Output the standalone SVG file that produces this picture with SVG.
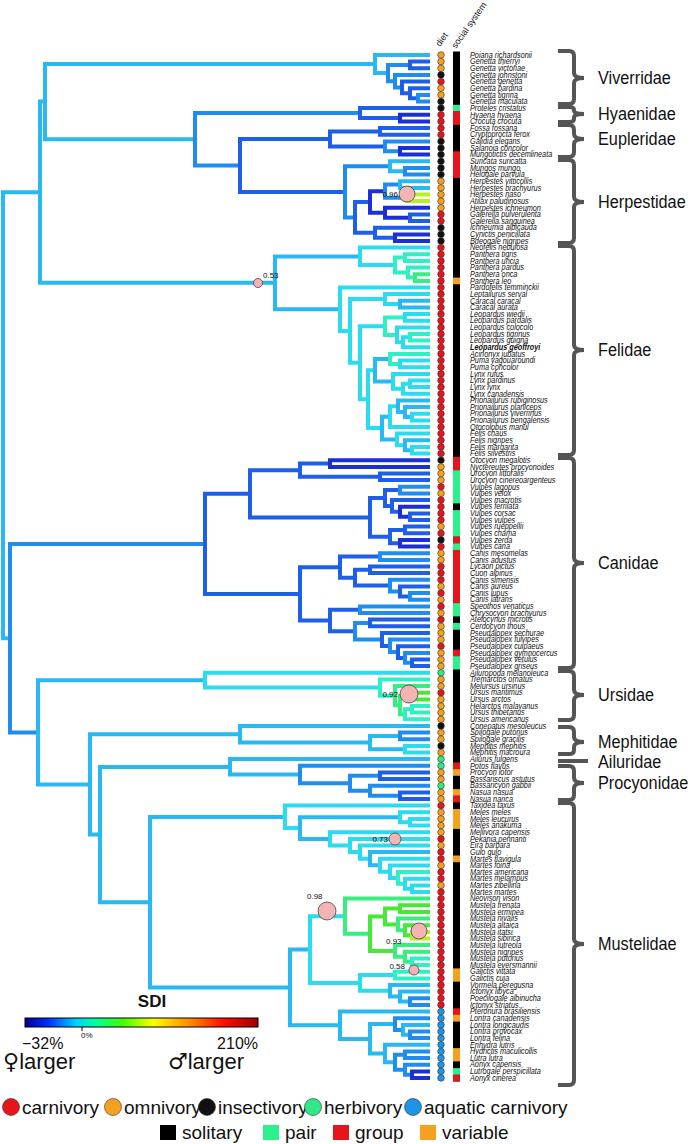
<svg xmlns="http://www.w3.org/2000/svg" width="691" height="1144" viewBox="0 0 691 1144">
<defs>
<linearGradient id="sdi" x1="0" x2="1" y1="0" y2="0">
<stop offset="0" stop-color="#000090"/><stop offset="0.1" stop-color="#0030ff"/><stop offset="0.22" stop-color="#00d0ff"/><stop offset="0.3" stop-color="#00ffa0"/><stop offset="0.42" stop-color="#40ff00"/><stop offset="0.55" stop-color="#ffff00"/><stop offset="0.7" stop-color="#ff9000"/><stop offset="0.85" stop-color="#ff1000"/><stop offset="1" stop-color="#a00000"/>
</linearGradient>
<style>
.tr path{fill:none;stroke-width:4;stroke-linecap:square}
.c1{stroke:#1b2fd6}.c2{stroke:#1d5fe8}.c3{stroke:#1f8df0}.c4{stroke:#28b8f2}.c5{stroke:#2bdcef}.c6{stroke:#2ff0c4}.c7{stroke:#38ee7e}.c8{stroke:#48e838}.c9{stroke:#b8f028}
.sp{font-family:"Liberation Sans",Arial,sans-serif;font-style:italic;font-size:8.2px;fill:#111}
.d circle{stroke:#333;stroke-width:0.6}
.R{fill:#e8141c}.O{fill:#f5a01e}.K{fill:#111}.G{fill:#2ee88a}.B{fill:#1e94e6}
.sR{fill:#e8141c}.sG{fill:#2ef08a}.sO{fill:#f5a01e}
.br{fill:none;stroke:#555;stroke-width:4}
.fam{font-family:"Liberation Sans",Arial,sans-serif;font-size:18.5px;fill:#111}
.pk{fill:#f4b4b4;stroke:#444;stroke-width:0.8}
.pl{font-family:"Liberation Sans",Arial,sans-serif;font-size:8px;fill:#111}
.lg{font-family:"Liberation Sans",Arial,sans-serif;font-size:19px;fill:#111}
.hd{font-family:"Liberation Sans",Arial,sans-serif;font-size:9px;fill:#111}
</style>
</defs>
<rect width="691" height="1144" fill="#fff"/>
<g id="connectors" class="tr">
<path class="c4" d="M40 192.2H3V638.2H10"/>
<path class="c4" d="M45 101.6H40V282.8H275"/>
<path class="c4" d="M375 64H45V139.3H195"/>
<path class="c4" d="M428 55H375V73.1H388"/>
<path class="c3" d="M410 65H388V81.2H395"/>
<path class="c2" d="M428 61.6H410V68.3H428"/>
<path class="c3" d="M428 74.9H395V87.4H402"/>
<path class="c2" d="M428 81.6H402V93.2H410"/>
<path class="c2" d="M428 88.2H410V98.2H418"/>
<path class="c3" d="M428 94.9H418V101.5H428"/>
<path class="c3" d="M360 113.1H195V165.4H240"/>
<path class="c2" d="M428 108.1H360V118.1H400"/>
<path class="c1" d="M428 114.8H400V121.4H428"/>
<path class="c2" d="M330 138.9H240V191.9H345"/>
<path class="c2" d="M380 131.4H330V146.4H385"/>
<path class="c2" d="M428 128.1H380V134.7H428"/>
<path class="c3" d="M428 141.4H385V151.3H400"/>
<path class="c1" d="M428 148H400V154.6H428"/>
<path class="c3" d="M390 166.3H345V217.4H355"/>
<path class="c4" d="M428 161.3H390V171.3H405"/>
<path class="c3" d="M428 167.9H405V174.6H428"/>
<path class="c2" d="M370 202H355V232.7H375"/>
<path class="c1" d="M385 191.2H370V212.8H385"/>
<path class="c3" d="M400 184.6H385V197.8H407"/>
<path class="c4" d="M428 181.2H400V187.9H428"/>
<path class="c9" d="M428 194.5H407V201.1H428"/>
<path class="c1" d="M428 207.8H385V217.8H410"/>
<path class="c2" d="M428 214.4H410V221.1H428"/>
<path class="c2" d="M428 227.7H375V237.7H395"/>
<path class="c1" d="M428 234.4H395V241H428"/>
<path class="c4" d="M360 256.4H275V309.2H340"/>
<path class="c5" d="M428 247.6H360V265.1H395"/>
<path class="c6" d="M405 257.6H395V272.6H408"/>
<path class="c6" d="M428 254.3H405V260.9H428"/>
<path class="c6" d="M428 267.6H408V277.6H415"/>
<path class="c7" d="M428 274.2H415V280.9H428"/>
<path class="c5" d="M428 287.5H340V330.9H350"/>
<path class="c5" d="M385 299.1H350V362.7H360"/>
<path class="c5" d="M428 294.1H385V304.1H400"/>
<path class="c4" d="M428 300.8H400V307.4H428"/>
<path class="c5" d="M385 326.2H360V399.2H368"/>
<path class="c6" d="M405 317.4H385V334.9H397"/>
<path class="c5" d="M428 314.1H405V320.7H428"/>
<path class="c5" d="M428 327.4H397V342.3H403"/>
<path class="c5" d="M410 337.3H403V347.3H428"/>
<path class="c6" d="M428 334H410V340.6H428"/>
<path class="c5" d="M375 370.2H368V428.1H382"/>
<path class="c4" d="M390 358.9H375V381.4H393"/>
<path class="c6" d="M428 353.9H390V363.9H400"/>
<path class="c5" d="M428 360.6H400V367.2H428"/>
<path class="c5" d="M428 373.9H393V388.8H403"/>
<path class="c5" d="M410 383.8H403V393.8H428"/>
<path class="c5" d="M428 380.5H410V387.1H428"/>
<path class="c4" d="M390 416.7H382V439.5H397"/>
<path class="c5" d="M398 406.3H390V427H428"/>
<path class="c4" d="M428 400.4H398V412.1H405"/>
<path class="c4" d="M428 407.1H405V417.1H412"/>
<path class="c5" d="M428 413.7H412V420.4H428"/>
<path class="c5" d="M428 433.6H397V445.3H405"/>
<path class="c4" d="M428 440.3H405V450.3H412"/>
<path class="c5" d="M428 446.9H412V453.6H428"/>
<path class="c3" d="M205 543.9H10V732.4H38"/>
<path class="c2" d="M250 493.8H205V593.9H300"/>
<path class="c2" d="M300 470.2H250V517.4H370"/>
<path class="c2" d="M330 463.6H300V476.8H380"/>
<path class="c1" d="M428 460.2H330V466.9H428"/>
<path class="c2" d="M428 473.5H380V480.1H428"/>
<path class="c2" d="M385 498H370V536.7H390"/>
<path class="c2" d="M400 490.1H385V505.9H392"/>
<path class="c3" d="M428 486.8H400V493.4H428"/>
<path class="c2" d="M428 500.1H392V511.7H400"/>
<path class="c1" d="M428 506.7H400V516.7H410"/>
<path class="c2" d="M428 513.4H410V520H428"/>
<path class="c2" d="M405 530H390V543.3H400"/>
<path class="c2" d="M428 526.6H405V533.3H428"/>
<path class="c1" d="M428 539.9H400V546.6H428"/>
<path class="c2" d="M340 567.2H300V620.5H330"/>
<path class="c2" d="M380 556.6H340V577.7H355"/>
<path class="c3" d="M428 553.2H380V559.9H428"/>
<path class="c2" d="M370 569.8H355V585.6H390"/>
<path class="c2" d="M428 566.5H370V573.1H428"/>
<path class="c3" d="M428 579.8H390V591.4H400"/>
<path class="c2" d="M428 586.4H400V596.4H410"/>
<path class="c3" d="M428 593.1H410V599.7H428"/>
<path class="c2" d="M360 609.7H330V631.2H355"/>
<path class="c3" d="M428 606.4H360V613H428"/>
<path class="c3" d="M370 623H355V639.4H382"/>
<path class="c2" d="M428 619.6H370V626.3H428"/>
<path class="c2" d="M428 632.9H382V645.9H390"/>
<path class="c3" d="M428 639.6H390V652.1H398"/>
<path class="c2" d="M428 646.2H398V657.9H405"/>
<path class="c3" d="M428 652.9H405V662.8H412"/>
<path class="c2" d="M428 659.5H412V666.1H428"/>
<path class="c4" d="M205 680.2H38V784.5H90"/>
<path class="c5" d="M428 672.8H205V687.6H380"/>
<path class="c6" d="M428 679.4H380V695.7H395"/>
<path class="c7" d="M428 686.1H395V705.2H400"/>
<path class="c7" d="M409 696.1H400V714.3H405"/>
<path class="c8" d="M428 692.7H409V699.4H428"/>
<path class="c6" d="M412 709.3H405V719.3H428"/>
<path class="c6" d="M428 706H412V712.6H428"/>
<path class="c4" d="M240 734.3H90V834.6H100"/>
<path class="c4" d="M428 725.9H240V742.6H370"/>
<path class="c4" d="M400 735.9H370V749.2H405"/>
<path class="c3" d="M428 732.6H400V739.2H428"/>
<path class="c5" d="M428 745.9H405V752.5H428"/>
<path class="c4" d="M230 766.9H100V902.2H150"/>
<path class="c4" d="M428 759.1H230V774.6H300"/>
<path class="c3" d="M428 765.8H300V783.3H350"/>
<path class="c3" d="M380 775.8H350V790.7H370"/>
<path class="c2" d="M428 772.4H380V779.1H428"/>
<path class="c3" d="M428 785.7H370V795.7H400"/>
<path class="c2" d="M428 792.4H400V799H428"/>
<path class="c4" d="M285 816.9H150V987.5H290"/>
<path class="c5" d="M428 805.6H285V828.1H300"/>
<path class="c4" d="M400 817.3H300V838.9H330"/>
<path class="c5" d="M428 812.3H400V822.3H410"/>
<path class="c5" d="M428 818.9H410V825.6H428"/>
<path class="c5" d="M428 832.2H330V845.5H350"/>
<path class="c5" d="M428 838.9H350V852.1H360"/>
<path class="c5" d="M428 845.5H360V858.7H370"/>
<path class="c4" d="M428 852.1H370V865.3H380"/>
<path class="c5" d="M428 858.8H380V871.7H390"/>
<path class="c5" d="M428 865.4H390V877.9H398"/>
<path class="c6" d="M428 872.1H398V883.7H405"/>
<path class="c5" d="M428 878.7H405V888.7H412"/>
<path class="c5" d="M428 885.4H412V892H428"/>
<path class="c4" d="M310 949.6H290V1025.3H340"/>
<path class="c5" d="M345 916.2H310V983H360"/>
<path class="c7" d="M428 898.6H345V933.8H370"/>
<path class="c8" d="M385 916.5H370V951H395"/>
<path class="c8" d="M400 908.6H385V924.4H398"/>
<path class="c8" d="M428 905.3H400V911.9H428"/>
<path class="c7" d="M428 918.6H398V930.2H405"/>
<path class="c8" d="M428 925.2H405V935.2H412"/>
<path class="c9" d="M428 931.9H412V938.5H428"/>
<path class="c7" d="M428 945.1H395V956.8H405"/>
<path class="c7" d="M428 951.8H405V961.8H412"/>
<path class="c6" d="M428 958.4H412V965.1H428"/>
<path class="c5" d="M395 975.1H360V990.8H390"/>
<path class="c6" d="M428 971.7H395V978.4H428"/>
<path class="c4" d="M428 985H390V996.6H400"/>
<path class="c4" d="M428 991.6H400V1001.6H410"/>
<path class="c3" d="M428 998.3H410V1004.9H428"/>
<path class="c4" d="M428 1011.6H340V1038.9H370"/>
<path class="c4" d="M395 1024.1H370V1053.6H385"/>
<path class="c3" d="M428 1018.2H395V1029.9H403"/>
<path class="c4" d="M428 1024.9H403V1034.8H410"/>
<path class="c3" d="M428 1031.5H410V1038.1H428"/>
<path class="c4" d="M428 1044.8H385V1062.3H395"/>
<path class="c3" d="M405 1054.8H395V1069.7H405"/>
<path class="c3" d="M428 1051.4H405V1058.1H428"/>
<path class="c3" d="M428 1064.7H405V1074.7H412"/>
<path class="c1" d="M428 1071.4H412V1078H428"/>
</g>
<g id="shift-markers">
<circle class="pk" cx="258" cy="283" r="4.5"/><text class="pl" x="263" y="278">0.53</text>
<circle class="pk" cx="407" cy="194" r="8"/><text class="pl" x="398" y="197" text-anchor="end">0.96</text>
<circle class="pk" cx="409" cy="694" r="9"/><text class="pl" x="398" y="697" text-anchor="end">0.92</text>
<circle class="pk" cx="395" cy="839" r="6"/><text class="pl" x="388" y="842" text-anchor="end">0.73</text>
<circle class="pk" cx="327" cy="911" r="9"/><text class="pl" x="307" y="899">0.98</text>
<circle class="pk" cx="419" cy="931" r="8"/><text class="pl" x="386" y="944">0.93</text>
<circle class="pk" cx="414" cy="970" r="5"/><text class="pl" x="405" y="969" text-anchor="end">0.58</text>
</g>
<g id="headers">
<text class="hd" transform="translate(440 47) rotate(-55)">diet</text>
<text class="hd" transform="translate(456 49) rotate(-55)">social system</text>
</g>
<g id="diet" class="d">
<circle class="O" cx="441" cy="55" r="3.3"/><circle class="O" cx="441" cy="61.6" r="3.3"/><circle class="O" cx="441" cy="68.3" r="3.3"/><circle class="K" cx="441" cy="74.9" r="3.3"/><circle class="R" cx="441" cy="81.6" r="3.3"/><circle class="O" cx="441" cy="88.2" r="3.3"/><circle class="O" cx="441" cy="94.9" r="3.3"/><circle class="K" cx="441" cy="101.5" r="3.3"/><circle class="K" cx="441" cy="108.1" r="3.3"/><circle class="R" cx="441" cy="114.8" r="3.3"/><circle class="R" cx="441" cy="121.4" r="3.3"/><circle class="R" cx="441" cy="128.1" r="3.3"/><circle class="R" cx="441" cy="134.7" r="3.3"/><circle class="K" cx="441" cy="141.4" r="3.3"/><circle class="K" cx="441" cy="148" r="3.3"/><circle class="K" cx="441" cy="154.6" r="3.3"/><circle class="K" cx="441" cy="161.3" r="3.3"/><circle class="K" cx="441" cy="167.9" r="3.3"/><circle class="K" cx="441" cy="174.6" r="3.3"/><circle class="O" cx="441" cy="181.2" r="3.3"/><circle class="O" cx="441" cy="187.9" r="3.3"/><circle class="O" cx="441" cy="194.5" r="3.3"/><circle class="O" cx="441" cy="201.1" r="3.3"/><circle class="O" cx="441" cy="207.8" r="3.3"/><circle class="R" cx="441" cy="214.4" r="3.3"/><circle class="R" cx="441" cy="221.1" r="3.3"/><circle class="K" cx="441" cy="227.7" r="3.3"/><circle class="K" cx="441" cy="234.4" r="3.3"/><circle class="K" cx="441" cy="241" r="3.3"/>
<circle class="R" cx="441" cy="247.6" r="3.3"/><circle class="R" cx="441" cy="254.3" r="3.3"/><circle class="R" cx="441" cy="260.9" r="3.3"/><circle class="R" cx="441" cy="267.6" r="3.3"/><circle class="R" cx="441" cy="274.2" r="3.3"/><circle class="R" cx="441" cy="280.9" r="3.3"/><circle class="R" cx="441" cy="287.5" r="3.3"/><circle class="R" cx="441" cy="294.1" r="3.3"/><circle class="R" cx="441" cy="300.8" r="3.3"/><circle class="R" cx="441" cy="307.4" r="3.3"/><circle class="R" cx="441" cy="314.1" r="3.3"/><circle class="R" cx="441" cy="320.7" r="3.3"/><circle class="R" cx="441" cy="327.4" r="3.3"/><circle class="R" cx="441" cy="334" r="3.3"/><circle class="R" cx="441" cy="340.6" r="3.3"/><circle class="R" cx="441" cy="347.3" r="3.3"/><circle class="R" cx="441" cy="353.9" r="3.3"/><circle class="R" cx="441" cy="360.6" r="3.3"/><circle class="R" cx="441" cy="367.2" r="3.3"/><circle class="R" cx="441" cy="373.9" r="3.3"/><circle class="R" cx="441" cy="380.5" r="3.3"/><circle class="R" cx="441" cy="387.1" r="3.3"/><circle class="R" cx="441" cy="393.8" r="3.3"/><circle class="R" cx="441" cy="400.4" r="3.3"/><circle class="R" cx="441" cy="407.1" r="3.3"/><circle class="R" cx="441" cy="413.7" r="3.3"/><circle class="R" cx="441" cy="420.4" r="3.3"/><circle class="R" cx="441" cy="427" r="3.3"/><circle class="R" cx="441" cy="433.6" r="3.3"/><circle class="R" cx="441" cy="440.3" r="3.3"/><circle class="R" cx="441" cy="446.9" r="3.3"/><circle class="R" cx="441" cy="453.6" r="3.3"/>
<circle class="K" cx="441" cy="460.2" r="3.3"/><circle class="O" cx="441" cy="466.9" r="3.3"/><circle class="O" cx="441" cy="473.5" r="3.3"/><circle class="O" cx="441" cy="480.1" r="3.3"/><circle class="R" cx="441" cy="486.8" r="3.3"/><circle class="O" cx="441" cy="493.4" r="3.3"/><circle class="R" cx="441" cy="500.1" r="3.3"/><circle class="R" cx="441" cy="506.7" r="3.3"/><circle class="R" cx="441" cy="513.4" r="3.3"/><circle class="R" cx="441" cy="520" r="3.3"/><circle class="O" cx="441" cy="526.6" r="3.3"/><circle class="R" cx="441" cy="533.3" r="3.3"/><circle class="K" cx="441" cy="539.9" r="3.3"/><circle class="R" cx="441" cy="546.6" r="3.3"/><circle class="O" cx="441" cy="553.2" r="3.3"/><circle class="O" cx="441" cy="559.9" r="3.3"/><circle class="R" cx="441" cy="566.5" r="3.3"/><circle class="R" cx="441" cy="573.1" r="3.3"/><circle class="R" cx="441" cy="579.8" r="3.3"/><circle class="O" cx="441" cy="586.4" r="3.3"/><circle class="R" cx="441" cy="593.1" r="3.3"/><circle class="O" cx="441" cy="599.7" r="3.3"/><circle class="R" cx="441" cy="606.4" r="3.3"/><circle class="O" cx="441" cy="613" r="3.3"/><circle class="R" cx="441" cy="619.6" r="3.3"/><circle class="O" cx="441" cy="626.3" r="3.3"/><circle class="O" cx="441" cy="632.9" r="3.3"/><circle class="O" cx="441" cy="639.6" r="3.3"/><circle class="R" cx="441" cy="646.2" r="3.3"/><circle class="O" cx="441" cy="652.9" r="3.3"/><circle class="O" cx="441" cy="659.5" r="3.3"/><circle class="O" cx="441" cy="666.1" r="3.3"/>
<circle class="G" cx="441" cy="672.8" r="3.3"/><circle class="O" cx="441" cy="679.4" r="3.3"/><circle class="O" cx="441" cy="686.1" r="3.3"/><circle class="R" cx="441" cy="692.7" r="3.3"/><circle class="O" cx="441" cy="699.4" r="3.3"/><circle class="O" cx="441" cy="706" r="3.3"/><circle class="O" cx="441" cy="712.6" r="3.3"/><circle class="O" cx="441" cy="719.3" r="3.3"/><circle class="K" cx="441" cy="725.9" r="3.3"/><circle class="O" cx="441" cy="732.6" r="3.3"/><circle class="O" cx="441" cy="739.2" r="3.3"/><circle class="K" cx="441" cy="745.9" r="3.3"/><circle class="O" cx="441" cy="752.5" r="3.3"/><circle class="G" cx="441" cy="759.1" r="3.3"/><circle class="G" cx="441" cy="765.8" r="3.3"/><circle class="O" cx="441" cy="772.4" r="3.3"/><circle class="O" cx="441" cy="779.1" r="3.3"/><circle class="G" cx="441" cy="785.7" r="3.3"/><circle class="O" cx="441" cy="792.4" r="3.3"/><circle class="O" cx="441" cy="799" r="3.3"/><circle class="R" cx="441" cy="805.6" r="3.3"/><circle class="O" cx="441" cy="812.3" r="3.3"/><circle class="O" cx="441" cy="818.9" r="3.3"/><circle class="O" cx="441" cy="825.6" r="3.3"/><circle class="O" cx="441" cy="832.2" r="3.3"/><circle class="R" cx="441" cy="838.9" r="3.3"/><circle class="O" cx="441" cy="845.5" r="3.3"/><circle class="R" cx="441" cy="852.1" r="3.3"/><circle class="R" cx="441" cy="858.8" r="3.3"/><circle class="O" cx="441" cy="865.4" r="3.3"/><circle class="R" cx="441" cy="872.1" r="3.3"/><circle class="R" cx="441" cy="878.7" r="3.3"/><circle class="O" cx="441" cy="885.4" r="3.3"/><circle class="R" cx="441" cy="892" r="3.3"/>
<circle class="R" cx="441" cy="898.6" r="3.3"/><circle class="R" cx="441" cy="905.3" r="3.3"/><circle class="R" cx="441" cy="911.9" r="3.3"/><circle class="R" cx="441" cy="918.6" r="3.3"/><circle class="R" cx="441" cy="925.2" r="3.3"/><circle class="R" cx="441" cy="931.9" r="3.3"/><circle class="R" cx="441" cy="938.5" r="3.3"/><circle class="R" cx="441" cy="945.1" r="3.3"/><circle class="R" cx="441" cy="951.8" r="3.3"/><circle class="R" cx="441" cy="958.4" r="3.3"/><circle class="R" cx="441" cy="965.1" r="3.3"/><circle class="R" cx="441" cy="971.7" r="3.3"/><circle class="R" cx="441" cy="978.4" r="3.3"/><circle class="R" cx="441" cy="985" r="3.3"/><circle class="R" cx="441" cy="991.6" r="3.3"/><circle class="R" cx="441" cy="998.3" r="3.3"/><circle class="R" cx="441" cy="1004.9" r="3.3"/><circle class="B" cx="441" cy="1011.6" r="3.3"/><circle class="B" cx="441" cy="1018.2" r="3.3"/><circle class="B" cx="441" cy="1024.9" r="3.3"/><circle class="B" cx="441" cy="1031.5" r="3.3"/><circle class="B" cx="441" cy="1038.1" r="3.3"/><circle class="B" cx="441" cy="1044.8" r="3.3"/><circle class="B" cx="441" cy="1051.4" r="3.3"/><circle class="B" cx="441" cy="1058.1" r="3.3"/><circle class="B" cx="441" cy="1064.7" r="3.3"/><circle class="B" cx="441" cy="1071.4" r="3.3"/><circle class="B" cx="441" cy="1078" r="3.3"/>
</g>
<g id="social">
<rect x="453" y="51.5" width="7" height="1030" fill="#000"/>
<rect class="sG" x="453" y="104.8" width="7" height="6.7"/>
<rect class="sR" x="453" y="111.5" width="7" height="13.3"/>
<rect class="sR" x="453" y="151.3" width="7" height="26.6"/>
<rect class="sO" x="453" y="277.6" width="7" height="6.7"/>
<rect class="sR" x="453" y="456.9" width="7" height="13.3"/>
<rect class="sG" x="453" y="470.2" width="7" height="33.2"/>
<rect class="sG" x="453" y="510.1" width="7" height="26.6"/>
<rect class="sR" x="453" y="536.6" width="7" height="6.7"/>
<rect class="sG" x="453" y="543.3" width="7" height="6.7"/>
<rect class="sR" x="453" y="549.9" width="7" height="53.2"/>
<rect class="sG" x="453" y="603.1" width="7" height="13.3"/>
<rect class="sG" x="453" y="623" width="7" height="6.7"/>
<rect class="sR" x="453" y="649.6" width="7" height="6.7"/>
<rect class="sG" x="453" y="656.2" width="7" height="13.3"/>
<rect class="sR" x="453" y="762.5" width="7" height="6.7"/>
<rect class="sO" x="453" y="769.1" width="7" height="6.7"/>
<rect class="sO" x="453" y="789.1" width="7" height="6.7"/>
<rect class="sR" x="453" y="795.7" width="7" height="6.7"/>
<rect class="sO" x="453" y="809" width="7" height="19.9"/>
<rect class="sO" x="453" y="855.5" width="7" height="6.7"/>
<rect class="sO" x="453" y="968.4" width="7" height="13.3"/>
<rect class="sR" x="453" y="1008.3" width="7" height="6.7"/>
<rect class="sO" x="453" y="1014.9" width="7" height="6.7"/>
<rect class="sO" x="453" y="1048.1" width="7" height="13.3"/>
<rect class="sG" x="453" y="1068.1" width="7" height="6.7"/>
<rect class="sR" x="453" y="1074.7" width="7" height="6.7"/>
</g>
<g id="tips">
<text class="sp" transform="translate(470 0) scale(0.89 1)">
<tspan x="0" y="57.8">Poiana richardsonii</tspan><tspan x="0" y="64.4">Genetta thierryi</tspan><tspan x="0" y="71.1">Genetta victoriae</tspan><tspan x="0" y="77.7">Genetta johnstoni</tspan><tspan x="0" y="84.4">Genetta genetta</tspan><tspan x="0" y="91">Genetta pardina</tspan><tspan x="0" y="97.7">Genetta tigrina</tspan><tspan x="0" y="104.3">Genetta maculata</tspan><tspan x="0" y="110.9">Proteles cristatus</tspan><tspan x="0" y="117.6">Hyaena hyaena</tspan><tspan x="0" y="124.2">Crocuta crocuta</tspan><tspan x="0" y="130.9">Fossa fossana</tspan><tspan x="0" y="137.5">Cryptoprocta ferox</tspan><tspan x="0" y="144.2">Galidia elegans</tspan><tspan x="0" y="150.8">Salanoia concolor</tspan><tspan x="0" y="157.4">Mungotictis decemlineata</tspan><tspan x="0" y="164.1">Suricata suricatta</tspan><tspan x="0" y="170.7">Mungos mungo</tspan><tspan x="0" y="177.4">Helogale parvula</tspan><tspan x="0" y="184">Herpestes vitticollis</tspan><tspan x="0" y="190.7">Herpestes brachyurus</tspan><tspan x="0" y="197.3">Herpestes naso</tspan><tspan x="0" y="203.9">Atilax paludinosus</tspan><tspan x="0" y="210.6">Herpestes ichneumon</tspan><tspan x="0" y="217.2">Galerella pulverulenta</tspan><tspan x="0" y="223.9">Galerella sanguinea</tspan><tspan x="0" y="230.5">Ichneumia albicauda</tspan><tspan x="0" y="237.2">Cynictis penicillata</tspan><tspan x="0" y="243.8">Bdeogale nigripes</tspan><tspan x="0" y="250.4">Neofelis nebulosa</tspan><tspan x="0" y="257.1">Panthera tigris</tspan><tspan x="0" y="263.7">Panthera uncia</tspan><tspan x="0" y="270.4">Panthera pardus</tspan><tspan x="0" y="277">Panthera onca</tspan><tspan x="0" y="283.7">Panthera leo</tspan><tspan x="0" y="290.3">Pardofelis temminckii</tspan><tspan x="0" y="296.9">Leptailurus serval</tspan><tspan x="0" y="303.6">Caracal caracal</tspan><tspan x="0" y="310.2">Caracal aurata</tspan><tspan x="0" y="316.9">Leopardus wiedii</tspan><tspan x="0" y="323.5">Leopardus pardalis</tspan><tspan x="0" y="330.2">Leopardus colocolo</tspan><tspan x="0" y="336.8">Leopardus tigrinus</tspan><tspan x="0" y="343.4">Leopardus guigna</tspan><tspan x="0" y="350.1" font-weight="bold">Leopardus geoffroyi</tspan><tspan x="0" y="356.7">Acinonyx jubatus</tspan><tspan x="0" y="363.4">Puma yagouaroundi</tspan><tspan x="0" y="370">Puma concolor</tspan><tspan x="0" y="376.7">Lynx rufus</tspan><tspan x="0" y="383.3">Lynx pardinus</tspan><tspan x="0" y="389.9">Lynx lynx</tspan><tspan x="0" y="396.6">Lynx canadensis</tspan><tspan x="0" y="403.2">Prionailurus rubiginosus</tspan><tspan x="0" y="409.9">Prionailurus planiceps</tspan><tspan x="0" y="416.5">Prionailurus viverrinus</tspan><tspan x="0" y="423.2">Prionailurus bengalensis</tspan><tspan x="0" y="429.8">Otocolobus manul</tspan><tspan x="0" y="436.4">Felis chaus</tspan><tspan x="0" y="443.1">Felis nigripes</tspan><tspan x="0" y="449.7">Felis margarita</tspan><tspan x="0" y="456.4">Felis silvestris</tspan><tspan x="0" y="463">Otocyon megalotis</tspan><tspan x="0" y="469.7">Nyctereutes procyonoides</tspan><tspan x="0" y="476.3">Urocyon littoralis</tspan><tspan x="0" y="482.9">Urocyon cinereoargenteus</tspan><tspan x="0" y="489.6">Vulpes lagopus</tspan><tspan x="0" y="496.2">Vulpes velox</tspan><tspan x="0" y="502.9">Vulpes macrotis</tspan><tspan x="0" y="509.5">Vulpes ferrilata</tspan><tspan x="0" y="516.2">Vulpes corsac</tspan><tspan x="0" y="522.8">Vulpes vulpes</tspan><tspan x="0" y="529.4">Vulpes rueppellii</tspan><tspan x="0" y="536.1">Vulpes chama</tspan><tspan x="0" y="542.7">Vulpes zerda</tspan><tspan x="0" y="549.4">Vulpes cana</tspan><tspan x="0" y="556">Canis mesomelas</tspan><tspan x="0" y="562.7">Canis adustus</tspan><tspan x="0" y="569.3">Lycaon pictus</tspan><tspan x="0" y="575.9">Cuon alpinus</tspan><tspan x="0" y="582.6">Canis simensis</tspan><tspan x="0" y="589.2">Canis aureus</tspan><tspan x="0" y="595.9">Canis lupus</tspan><tspan x="0" y="602.5">Canis latrans</tspan><tspan x="0" y="609.2">Speothos venaticus</tspan><tspan x="0" y="615.8">Chrysocyon brachyurus</tspan><tspan x="0" y="622.4">Atelocynus microtis</tspan><tspan x="0" y="629.1">Cerdocyon thous</tspan><tspan x="0" y="635.7">Pseudalopex sechurae</tspan><tspan x="0" y="642.4">Pseudalopex fulvipes</tspan><tspan x="0" y="649">Pseudalopex culpaeus</tspan><tspan x="0" y="655.7">Pseudalopex gymnocercus</tspan><tspan x="0" y="662.3">Pseudalopex vetulus</tspan><tspan x="0" y="668.9">Pseudalopex griseus</tspan><tspan x="0" y="675.6">Ailuropoda melanoleuca</tspan><tspan x="0" y="682.2">Tremarctos ornatus</tspan><tspan x="0" y="688.9">Melursus ursinus</tspan><tspan x="0" y="695.5">Ursus maritimus</tspan><tspan x="0" y="702.2">Ursus arctos</tspan><tspan x="0" y="708.8">Helarctos malayanus</tspan><tspan x="0" y="715.4">Ursus thibetanus</tspan><tspan x="0" y="722.1">Ursus americanus</tspan><tspan x="0" y="728.7">Conepatus mesoleucus</tspan><tspan x="0" y="735.4">Spilogale putorius</tspan><tspan x="0" y="742">Spilogale gracilis</tspan><tspan x="0" y="748.7">Mephitis mephitis</tspan><tspan x="0" y="755.3">Mephitis macroura</tspan><tspan x="0" y="761.9">Ailurus fulgens</tspan><tspan x="0" y="768.6">Potos flavus</tspan><tspan x="0" y="775.2">Procyon lotor</tspan><tspan x="0" y="781.9">Bassariscus astutus</tspan><tspan x="0" y="788.5">Bassaricyon gabbii</tspan><tspan x="0" y="795.2">Nasua nasua</tspan><tspan x="0" y="801.8">Nasua narica</tspan><tspan x="0" y="808.4">Taxidea taxus</tspan><tspan x="0" y="815.1">Meles meles</tspan><tspan x="0" y="821.7">Meles leucurus</tspan><tspan x="0" y="828.4">Meles anakuma</tspan><tspan x="0" y="835">Mellivora capensis</tspan><tspan x="0" y="841.7">Pekania pennanti</tspan><tspan x="0" y="848.3">Eira barbara</tspan><tspan x="0" y="854.9">Gulo gulo</tspan><tspan x="0" y="861.6">Martes flavigula</tspan><tspan x="0" y="868.2">Martes foina</tspan><tspan x="0" y="874.9">Martes americana</tspan><tspan x="0" y="881.5">Martes melampus</tspan><tspan x="0" y="888.2">Martes zibellina</tspan><tspan x="0" y="894.8">Martes martes</tspan><tspan x="0" y="901.4">Neovison vison</tspan><tspan x="0" y="908.1">Mustela frenata</tspan><tspan x="0" y="914.7">Mustela erminea</tspan><tspan x="0" y="921.4">Mustela nivalis</tspan><tspan x="0" y="928">Mustela altaica</tspan><tspan x="0" y="934.7">Mustela itatsi</tspan><tspan x="0" y="941.3">Mustela sibirica</tspan><tspan x="0" y="947.9">Mustela lutreola</tspan><tspan x="0" y="954.6">Mustela nigripes</tspan><tspan x="0" y="961.2">Mustela putorius</tspan><tspan x="0" y="967.9">Mustela eversmannii</tspan><tspan x="0" y="974.5">Galictis vittata</tspan><tspan x="0" y="981.2">Galictis cuja</tspan><tspan x="0" y="987.8">Vormela peregusna</tspan><tspan x="0" y="994.4">Ictonyx libyca</tspan><tspan x="0" y="1001.1">Poecilogale albinucha</tspan><tspan x="0" y="1007.7">Ictonyx striatus</tspan><tspan x="0" y="1014.4">Pteronura brasiliensis</tspan><tspan x="0" y="1021">Lontra canadensis</tspan><tspan x="0" y="1027.7">Lontra longicaudis</tspan><tspan x="0" y="1034.3">Lontra provocax</tspan><tspan x="0" y="1040.9">Lontra felina</tspan><tspan x="0" y="1047.6">Enhydra lutris</tspan><tspan x="0" y="1054.2">Hydrictis maculicollis</tspan><tspan x="0" y="1060.9">Lutra lutra</tspan><tspan x="0" y="1067.5">Aonyx capensis</tspan><tspan x="0" y="1074.2">Lutrogale perspicillata</tspan><tspan x="0" y="1080.8">Aonyx cinerea</tspan>
</text>
</g>
<g id="families">
<g id="fam-viverridae"><path class="br" d="M558 51H569Q574 51 574 56V73Q574 78 584 78Q574 78 574 83V99Q574 104 569 104H558"/><text class="fam" transform="translate(598 84) scale(0.88 1)">Viverridae</text></g>
<g id="fam-hyaenidae"><path class="br" d="M558 107H569Q574 107 574 110V111Q574 114 584 114Q574 114 574 117V119Q574 122 569 122H558"/><text class="fam" transform="translate(598 120) scale(0.88 1)">Hyaenidae</text></g>
<g id="fam-eupleridae"><path class="br" d="M558 125H569Q574 125 574 130V134Q574 139 584 139Q574 139 574 144V152Q574 157 569 157H558"/><text class="fam" transform="translate(598 145) scale(0.88 1)">Eupleridae</text></g>
<g id="fam-herpestidae"><path class="br" d="M558 160H569Q574 160 574 165V197Q574 202 584 202Q574 202 574 207V238Q574 243 569 243H558"/><text class="fam" transform="translate(598 208) scale(0.88 1)">Herpestidae</text></g>
<g id="fam-felidae"><path class="br" d="M558 246H569Q574 246 574 251V345Q574 350 584 350Q574 350 574 355V450Q574 455 569 455H558"/><text class="fam" transform="translate(598 356) scale(0.88 1)">Felidae</text></g>
<g id="fam-canidae"><path class="br" d="M558 458H569Q574 458 574 463V558Q574 563 584 563Q574 563 574 568V663Q574 668 569 668H558"/><text class="fam" transform="translate(598 569) scale(0.88 1)">Canidae</text></g>
<g id="fam-ursidae"><path class="br" d="M558 671H569Q574 671 574 676V690Q574 695 584 695Q574 695 574 700V715Q574 720 569 720H558"/><text class="fam" transform="translate(598 701) scale(0.88 1)">Ursidae</text></g>
<g id="fam-mephitidae"><path class="br" d="M558 727H569Q574 727 574 732V737Q574 742 584 742Q574 742 574 747V750Q574 754 569 754H558"/><text class="fam" transform="translate(598 748) scale(0.88 1)">Mephitidae</text></g>
<g id="fam-ailuridae"><path class="br" d="M558 761H588"/><text class="fam" transform="translate(598 768) scale(0.88 1)">Ailuridae</text></g>
<g id="fam-procyonidae"><path class="br" d="M558 766H569Q574 766 574 771V778Q574 783 584 783Q574 783 574 788V795Q574 800 569 800H558"/><text class="fam" transform="translate(598 789) scale(0.88 1)">Procyonidae</text></g>
<g id="fam-mustelidae"><path class="br" d="M558 803H569Q574 803 574 808V939Q574 944 584 944Q574 944 574 949V1080Q574 1085 569 1085H558"/><text class="fam" transform="translate(598 950) scale(0.88 1)">Mustelidae</text></g>
</g>
<g id="sdi-legend">
<text x="152" y="1007" font-family="Liberation Sans, Arial, sans-serif" font-size="17" font-weight="bold" text-anchor="middle" fill="#111">SDI</text>
<rect x="25" y="1018" width="233" height="9" fill="url(#sdi)" stroke="#000" stroke-width="1"/>
<line x1="82" y1="1027" x2="82" y2="1031" stroke="#000" stroke-width="1"/>
<text x="81" y="1038" font-family="Liberation Sans, Arial, sans-serif" font-size="8" fill="#111">0%</text>
<text x="22" y="1049" font-family="Liberation Sans, Arial, sans-serif" font-size="16" fill="#111">−32%</text>
<text x="258" y="1049" font-family="Liberation Sans, Arial, sans-serif" font-size="16" text-anchor="end" fill="#111">210%</text>
<text x="3" y="1069" font-family="DejaVu Sans, sans-serif" font-size="22" fill="#111">♀<tspan font-family="Liberation Sans, Arial, sans-serif">larger</tspan></text>
<text x="168" y="1069" font-family="DejaVu Sans, sans-serif" font-size="22" fill="#111">♂<tspan font-family="Liberation Sans, Arial, sans-serif">larger</tspan></text>
</g>
<g id="diet-legend" class="d">
<circle class="R" cx="11" cy="1107" r="8.5"/><text class="lg" x="22" y="1114">carnivory</text>
<circle class="O" cx="113" cy="1107" r="8.5"/><text class="lg" x="124" y="1114">omnivory</text>
<circle class="K" cx="207" cy="1107" r="8.5"/><text class="lg" x="218" y="1114">insectivory</text>
<circle class="G" cx="313" cy="1107" r="8.5"/><text class="lg" x="324" y="1114">herbivory</text>
<circle class="B" cx="413" cy="1107" r="8.5"/><text class="lg" x="424" y="1114">aquatic carnivory</text>
</g>
<g id="social-legend">
<rect x="160" y="1125" width="16" height="15" fill="#000"/><text class="lg" x="182" y="1139">solitary</text>
<rect class="sG" x="263" y="1125" width="16" height="15"/><text class="lg" x="285" y="1139">pair</text>
<rect class="sR" x="333" y="1125" width="16" height="15"/><text class="lg" x="355" y="1139">group</text>
<rect class="sO" x="420" y="1125" width="16" height="15"/><text class="lg" x="442" y="1139">variable</text>
</g>
</svg>
